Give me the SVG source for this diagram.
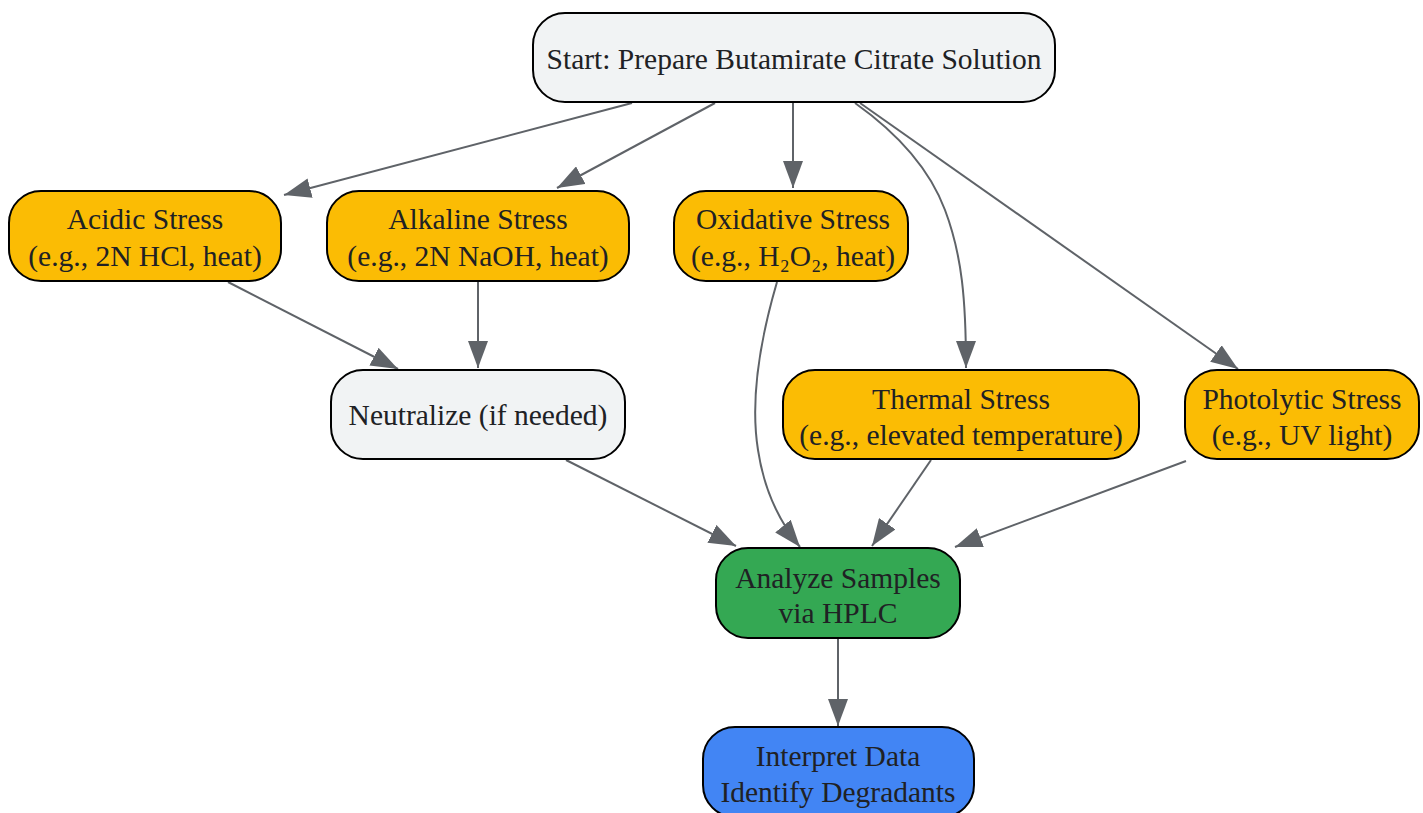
<svg xmlns="http://www.w3.org/2000/svg" width="1423" height="813" viewBox="0 0 1423 813">
<style>
.node rect{stroke:#000;stroke-width:2}
.gray{fill:#F1F3F4}.yel{fill:#FBBC04}.grn{fill:#34A853}.blu{fill:#4285F4}
text{font-family:"Liberation Serif","Times New Roman",serif;font-size:29.5px;fill:#202124;text-anchor:middle}
.edges path{fill:none;stroke:#5F6368;stroke-width:2;marker-end:url(#arr)}
</style>
<defs>
<marker id="arr" markerUnits="userSpaceOnUse" markerWidth="28" markerHeight="20" viewBox="0 0 28 20" refX="27" refY="10" orient="auto">
<path d="M0,0 L27,10 L0,20 z" fill="#5F6368"/>
</marker>
</defs>
<rect width="1423" height="813" fill="#fff"/>
<g class="edges">
<path d="M632,103 L284,195"/>
<path d="M715,103 L557,188"/>
<path d="M793,103 L793,188"/>
<path d="M855,103 C900,135 930,170 945,210 C962,255 966,300 966,368"/>
<path d="M860,103 L1238,369"/>
<path d="M228,282 L398,369"/>
<path d="M478,282 L478,368"/>
<path d="M777,282 C760,340 750,400 758,450 C764,490 778,520 800,547"/>
<path d="M566,460 L736,546"/>
<path d="M931,460 L872,546"/>
<path d="M1186,461 L955,547"/>
<path d="M838,639 L838,726"/>
</g>
<g id="start" class="node"><rect class="gray" x="533" y="13" width="522" height="89" rx="32"/><text x="794" y="69">Start: Prepare Butamirate Citrate Solution</text></g>
<g id="acidic" class="node"><rect class="yel" x="9" y="191" width="272" height="90" rx="32"/><text x="145" y="229">Acidic Stress</text><text x="145" y="266">(e.g., 2N HCl, heat)</text></g>
<g id="alkaline" class="node"><rect class="yel" x="327" y="191" width="302" height="90" rx="32"/><text x="478" y="229">Alkaline Stress</text><text x="478" y="266">(e.g., 2N NaOH, heat)</text></g>
<g id="oxidative" class="node"><rect class="yel" x="674" y="191" width="234" height="90" rx="32"/><text x="793" y="229">Oxidative Stress</text><text x="793" y="266">(e.g., H₂O₂, heat)</text></g>
<g id="neutralize" class="node"><rect class="gray" x="331" y="370" width="294" height="89" rx="32"/><text x="478" y="425">Neutralize (if needed)</text></g>
<g id="thermal" class="node"><rect class="yel" x="783" y="370" width="356" height="89" rx="32"/><text x="961" y="409">Thermal Stress</text><text x="961" y="445">(e.g., elevated temperature)</text></g>
<g id="photolytic" class="node"><rect class="yel" x="1185" y="370" width="234" height="89" rx="32"/><text x="1302" y="409">Photolytic Stress</text><text x="1302" y="445">(e.g., UV light)</text></g>
<g id="analyze" class="node"><rect class="grn" x="716" y="548" width="244" height="90" rx="32"/><text x="838" y="588">Analyze Samples</text><text x="838" y="623">via HPLC</text></g>
<g id="interpret" class="node"><rect class="blu" x="703" y="727" width="271" height="90" rx="32"/><text x="838" y="766">Interpret Data</text><text x="838" y="802">Identify Degradants</text></g>
</svg>
